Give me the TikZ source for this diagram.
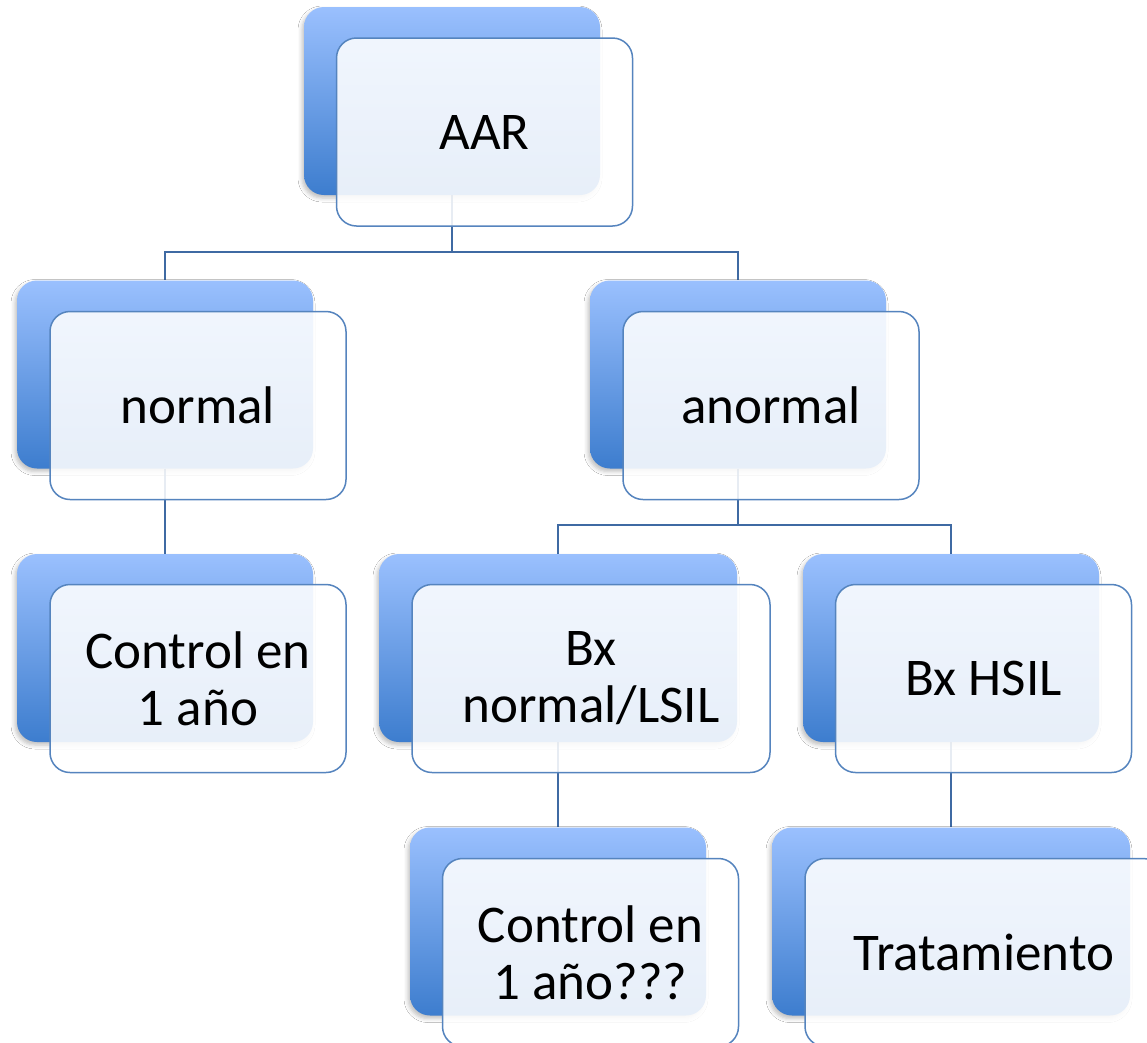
\documentclass[tikz,border=0pt]{standalone}
\usepackage{fontspec}
\setmainfont{Carlito}
\usetikzlibrary{shadows.blur}
\pgfdeclarelayer{bg}
\pgfsetlayers{bg,main}
\definecolor{backtop}{HTML}{9AC0FE}
\definecolor{backbot}{HTML}{3D7DCE}
\definecolor{frontedge}{HTML}{5584BE}
\definecolor{connline}{HTML}{3F6AA3}
\tikzset{
  backbox/.style={rectangle, rounded corners=20pt, minimum height=188pt, inner sep=0pt,
    top color=backtop, bottom color=backbot, draw=none,
    blur shadow={shadow xshift=-2pt, shadow yshift=-3pt, shadow blur radius=4pt, shadow opacity=25}},
  frontbox/.style={rectangle, rounded corners=20pt, minimum height=188pt, inner sep=0pt,
    fill=white, fill opacity=0.88, text opacity=1, draw=frontedge, line width=1.5pt,
    draw opacity=1, align=center, font=\fontsize{53}{57}\selectfont},
  conn/.style={draw=connline, line width=2pt}
}
\begin{document}
\begin{tikzpicture}[x=1pt,y=-1pt]
\useasboundingbox (0,0) rectangle (1147,1042);
\node[backbox, minimum width=296pt] (aarB) at (452,101) {};
\node[frontbox, minimum width=296pt] (aar) at (484.5,132) {AAR};
\node[backbox, minimum width=296pt] (normB) at (165,374.5) {};
\node[frontbox, minimum width=296pt] (norm) at (198,405.5) {normal};
\node[backbox, minimum width=296pt] (anorB) at (738,374.5) {};
\node[frontbox, minimum width=296pt] (anor) at (771,405.5) {anormal};
\node[backbox, minimum width=296pt] (ctrlB) at (165,648) {};
\node[frontbox, minimum width=296pt] (ctrl) at (198,678.5) {Control en\\1 año};
\node[backbox, minimum width=358pt] (bxlB) at (558,648) {};
\node[frontbox, minimum width=358pt] (bxl) at (591,678.5) {Bx\\normal/LSIL};
\node[backbox, minimum width=296pt] (bxhB) at (951,648) {};
\node[frontbox, minimum width=296pt] (bxh) at (983.5,678.5) {Bx HSIL};
\node[backbox, minimum width=296pt] (ctrlqB) at (558,921.5) {};
\node[frontbox, minimum width=296pt] (ctrlq) at (590.5,952.5) {Control en\\1 año???};
\node[backbox, minimum width=358pt] (tratB) at (951,921.5) {};
\node[frontbox, minimum width=358pt] (trat) at (984,952.5) {Tratamiento};
\begin{pgfonlayer}{bg}
\fill[white] (0,0) rectangle (1147,1042);
\draw[conn] (aarB.south) -- (aarB.south |- 0,252) -| (normB.north);
\draw[conn] (aarB.south |- 0,252) -| (anorB.north);
\draw[conn] (normB.south) -- (ctrlB.north);
\draw[conn] (anorB.south) -- (anorB.south |- 0,525) -| (bxlB.north);
\draw[conn] (anorB.south |- 0,525) -| (bxhB.north);
\draw[conn] (bxlB.south) -- (ctrlqB.north);
\draw[conn] (bxhB.south) -- (tratB.north);
\end{pgfonlayer}
\end{tikzpicture}
\end{document}
